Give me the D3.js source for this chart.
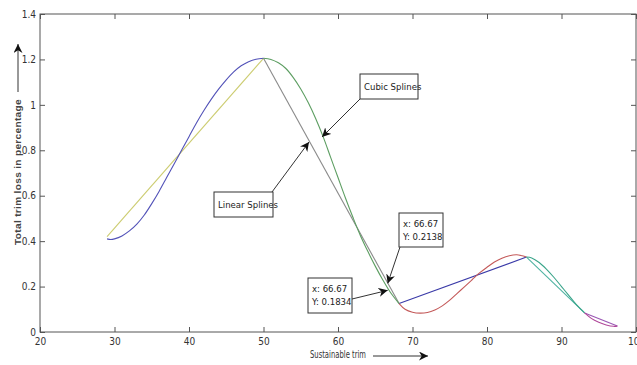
<!DOCTYPE html>
<html>
<head>
<meta charset="utf-8">
<script src="https://cdn.jsdelivr.net/npm/d3@7"></script>
<style>
  body { margin: 0; background: #fff; }
  svg { display: block; }
  .tick text { font-family: "DejaVu Sans Condensed", "Liberation Sans Narrow", sans-serif; font-stretch: condensed; font-size: 10px; fill: #333; }
  .narrow { font-family: "DejaVu Sans Condensed", "Liberation Sans Narrow", sans-serif; font-stretch: condensed; }
</style>
</head>
<body>
<div id="chart"></div>
<script>
// x ticks and y ticks of the figure
var xTicks = [20, 30, 40, 50, 60, 70, 80, 90, 100];
var yTicks = [0, 0.2, 0.4, 0.6, 0.8, 1, 1.2, 1.4];

// knots of the linear splines
var knotX = [29, 50, 68.2, 85.3, 93.1, 97.5];
var knotY = [0.42, 1.205, 0.125, 0.33, 0.084, 0.026];

// cubic spline pieces
var cubic1 = [[29,0.41],[29.5,0.407],[30,0.41],[31,0.423],[32,0.445],[33,0.475],[34,0.515],[35,0.565],
              [36,0.62],[37,0.68],[38,0.74],[39,0.8],[40,0.86],[41,0.92],[42,0.975],[43,1.025],
              [44,1.07],[45,1.11],[46,1.145],[47,1.172],[48,1.19],[49,1.201],[50,1.205]];
var cubic2 = [[50,1.205],[51,1.2],[52,1.185],[53,1.16],[54,1.12],[55,1.07],[56,1.01],[57,0.94],
              [58,0.86],[59,0.77],[60,0.68],[61,0.59],[62,0.505],[63,0.425],[64,0.355],[65,0.29],
              [66,0.23],[67,0.176],[68.2,0.125]];
var cubic3 = [[68.2,0.125],[69,0.1],[70,0.087],[71,0.083],[72,0.086],[73,0.097],[74,0.115],[75,0.14],
              [76,0.17],[77,0.2],[78,0.23],[79,0.26],[80,0.285],[81,0.308],[82,0.325],[83,0.336],
              [84,0.34],[85.3,0.33]];
var cubic4 = [[85.3,0.33],[86,0.326],[87,0.306],[88,0.276],[89,0.24],[90,0.2],[91,0.16],[92,0.12],[93.1,0.084]];
var cubic5 = [[93.1,0.084],[94,0.06],[95,0.043],[96,0.031],[97,0.025],[97.5,0.026]];

var cubicColors = ["#5252b8", "#5d9e62", "#c45a5a", "#3aa58a", "#b0489a"];
var linearColors = ["#cccc70", "#8a8a8a", "#3a3aa8", "#4fb3a2", "#9a58b4"];

// data tips
var tips = [
  { x: 66.67, y: 0.2138, box: [399, 213, 44, 34], from: [400, 247] },
  { x: 66.67, y: 0.1834, box: [308, 278, 44, 35], from: [352, 299] }
];

var width = 637, height = 365;
var svg = d3.select("#chart").append("svg")
  .attr("width", width)
  .attr("height", height);

var x = d3.scaleLinear().domain([20, 100]).range([40, 636]);
var y = d3.scaleLinear().domain([0, 1.4]).range([332, 14]);

var defs = svg.append("defs");
defs.append("marker")
  .attr("id", "head")
  .attr("viewBox", "0 0 10 10")
  .attr("refX", 10).attr("refY", 5)
  .attr("markerWidth", 9).attr("markerHeight", 9)
  .attr("markerUnits", "userSpaceOnUse")
  .attr("orient", "auto")
  .append("path")
  .attr("d", "M0,0 L10,5 L0,10 L3,5 Z")
  .attr("fill", "#111");

// axes, MATLAB style ticks pointing inwards
svg.append("g").attr("transform", "translate(0,332)")
  .call(d3.axisBottom(x).tickValues(xTicks).tickSize(-5).tickPadding(6).tickFormat(d3.format("d")))
  .call(function(g) { g.select(".domain").remove(); g.selectAll("line").attr("stroke", "#555"); });
svg.append("g").attr("transform", "translate(0,14)")
  .call(d3.axisTop(x).tickValues(xTicks).tickSize(-5).tickFormat(""))
  .call(function(g) { g.select(".domain").remove(); g.selectAll("line").attr("stroke", "#555"); });
svg.append("g").attr("transform", "translate(40,0)")
  .call(d3.axisLeft(y).tickValues(yTicks).tickSize(-5).tickPadding(4).tickFormat(d3.format("")))
  .call(function(g) { g.select(".domain").remove(); g.selectAll("line").attr("stroke", "#555"); });
svg.append("g").attr("transform", "translate(636,0)")
  .call(d3.axisRight(y).tickValues(yTicks).tickSize(-5).tickFormat(""))
  .call(function(g) { g.select(".domain").remove(); g.selectAll("line").attr("stroke", "#555"); });

svg.append("rect")
  .attr("x", 40).attr("y", 14).attr("width", 596).attr("height", 318)
  .attr("fill", "none").attr("stroke", "#555").attr("stroke-width", 1);

var line = d3.line().x(function(d) { return x(d[0]); }).y(function(d) { return y(d[1]); });
var smooth = d3.line().curve(d3.curveCatmullRom)
  .x(function(d) { return x(d[0]); }).y(function(d) { return y(d[1]); });

// linear splines
for (var i = 0; i < knotX.length - 1; i++) {
  svg.append("path")
    .attr("d", line([[knotX[i], knotY[i]], [knotX[i+1], knotY[i+1]]]))
    .attr("fill", "none").attr("stroke", linearColors[i]).attr("stroke-width", 1.1);
}
// cubic splines
[cubic1, cubic2, cubic3, cubic4, cubic5].forEach(function(seg, i) {
  svg.append("path")
    .attr("d", smooth(seg))
    .attr("fill", "none").attr("stroke", cubicColors[i]).attr("stroke-width", 1.1);
});

function arrow(x1, y1, x2, y2) {
  svg.append("line")
    .attr("x1", x1).attr("y1", y1).attr("x2", x2).attr("y2", y2)
    .attr("stroke", "#333").attr("stroke-width", 1)
    .attr("marker-end", "url(#head)");
}

function box(bx, by, bw, bh, lines) {
  svg.append("rect").attr("x", bx).attr("y", by).attr("width", bw).attr("height", bh)
    .attr("fill", "#fff").attr("stroke", "#333").attr("stroke-width", 1);
  lines.forEach(function(t, k) {
    svg.append("text").attr("class", "narrow")
      .attr("x", bx + 4).attr("y", by + (lines.length > 1 ? 14 : 16) + k * 13)
      .attr("font-size", 9.5).attr("fill", "#222").text(t);
  });
}

// labels of the two spline kinds
box(360, 74, 58, 25, ["Cubic Splines"]);
arrow(360, 99, 322, 137);
box(214, 192, 59, 25, ["Linear Splines"]);
arrow(272, 192, 309, 142);

// data tips
tips.forEach(function(t) {
  box(t.box[0], t.box[1], t.box[2], t.box[3], ["x: " + t.x, "Y: " + t.y]);
  arrow(t.from[0], t.from[1], x(t.x), y(t.y));
});

// axis titles, squeezed to the width seen in the figure
var ylab = svg.append("text")
  .attr("text-anchor", "middle")
  .attr("font-family", "'Liberation Sans', Arial, sans-serif")
  .attr("font-size", 9.5).attr("font-weight", "bold").attr("fill", "#444")
  .attr("letter-spacing", 0.3)
  .text("Total trim loss in percentage");
var ylen = ylab.node().getComputedTextLength();
ylab.attr("transform", "translate(21,172) rotate(-90) scale(" + (146 / ylen) + ",1)");
arrow(18, 92, 18, 44);

svg.append("text").attr("class", "narrow")
  .attr("x", 310).attr("y", 358)
  .attr("font-size", 10).attr("fill", "#333")
  .attr("textLength", 56).attr("lengthAdjust", "spacingAndGlyphs")
  .text("Sustainable trim");
arrow(373, 356, 428, 356);
</script>
</body>
</html>
